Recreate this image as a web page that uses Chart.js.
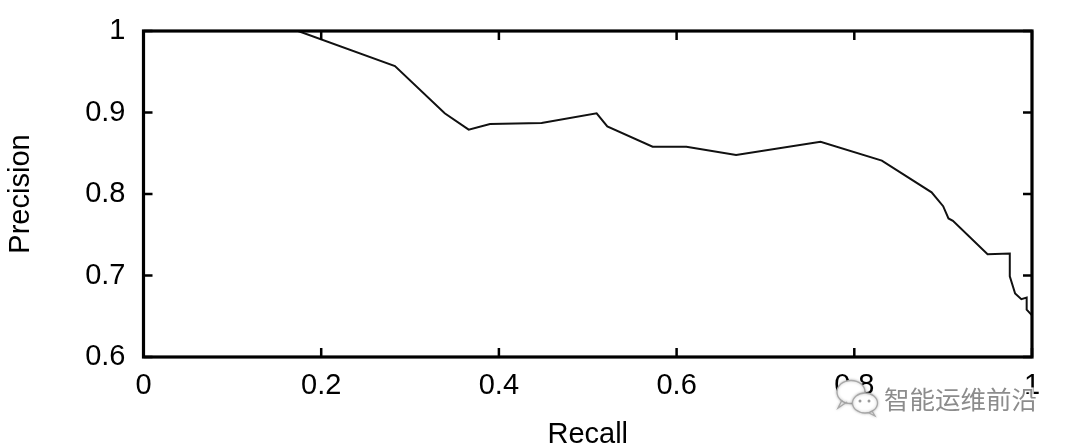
<!DOCTYPE html>
<html>
<head>
<meta charset="utf-8">
<script src="https://cdn.jsdelivr.net/npm/chart.js@4/dist/chart.umd.min.js"></script>
<style>
  html, body { margin: 0; padding: 0; background: #fff; }
  #wrap { width: 1074px; height: 446px; }
</style>
</head>
<body>
<div id="wrap"><canvas id="prChart" width="1074" height="446"></canvas></div>
<script>
// Precision-recall curve values
var recall = [0, 0.174, 0.283, 0.339, 0.366, 0.390, 0.448, 0.510, 0.522, 0.573, 0.611, 0.667, 0.762, 0.831, 0.887, 0.900, 0.906, 0.911, 0.950, 0.975, 0.975, 0.981, 0.988, 0.994, 0.994, 1.0];
var precision = [1, 1, 0.957, 0.899, 0.879, 0.886, 0.887, 0.899, 0.883, 0.858, 0.858, 0.848, 0.864, 0.841, 0.802, 0.785, 0.770, 0.767, 0.726, 0.727, 0.699, 0.678, 0.671, 0.673, 0.658, 0.651];

var xTickLabels = ['0', '0.2', '0.4', '0.6', '0.8', '1'];
var yTickLabels = ['0.6', '0.7', '0.8', '0.9', '1'];
var xTitle = 'Recall';
var yTitle = 'Precision';
var watermark = '智能运维前沿';

var FONT = '"Liberation Sans", Arial, sans-serif';

// gnuplot style frame with inward ticks on all four sides
var framePlugin = {
    id: 'frame',
    afterDatasetsDraw: function (chart) {
        var ctx = chart.ctx;
        var a = chart.chartArea;
        var xs = chart.scales.x;
        var ys = chart.scales.y;
        var len = 9;
        ctx.save();
        ctx.strokeStyle = '#000';
        ctx.lineWidth = 2.5;
        ctx.beginPath();
        xs.ticks.forEach(function (t) {
            var px = xs.getPixelForValue(t.value);
            ctx.moveTo(px, a.bottom); ctx.lineTo(px, a.bottom - len);
            ctx.moveTo(px, a.top); ctx.lineTo(px, a.top + len);
        });
        ys.ticks.forEach(function (t) {
            var py = ys.getPixelForValue(t.value);
            ctx.moveTo(a.left, py); ctx.lineTo(a.left + len, py);
            ctx.moveTo(a.right, py); ctx.lineTo(a.right - len, py);
        });
        ctx.stroke();
        ctx.lineWidth = 3.2;
        ctx.strokeRect(a.left, a.top, a.right - a.left, a.bottom - a.top);
        ctx.restore();
    }
};

// WeChat style watermark in the lower right corner
var watermarkPlugin = {
    id: 'watermark',
    afterDraw: function (chart) {
        var ctx = chart.ctx;
        ctx.save();
        ctx.shadowColor = 'rgba(0,0,0,0.25)';
        ctx.shadowBlur = 3;
        ctx.fillStyle = '#fff';
        ctx.strokeStyle = '#a8a8a8';
        ctx.lineWidth = 1.3;
        // back bubble
        ctx.beginPath();
        ctx.ellipse(851, 392, 14, 11.5, 0, 0, Math.PI * 2);
        ctx.fill();
        ctx.stroke();
        ctx.beginPath();
        ctx.moveTo(842, 400); ctx.lineTo(838, 408); ctx.lineTo(847, 402);
        ctx.stroke();
        // front bubble
        ctx.beginPath();
        ctx.ellipse(865, 403, 12.5, 10, 0, 0, Math.PI * 2);
        ctx.fill();
        ctx.stroke();
        ctx.beginPath();
        ctx.moveTo(872, 411); ctx.lineTo(875, 416); ctx.lineTo(868, 412.5);
        ctx.stroke();
        ctx.shadowBlur = 0;
        ctx.fillStyle = '#9a9a9a';
        ctx.beginPath();
        ctx.arc(860, 401, 1.5, 0, Math.PI * 2);
        ctx.arc(869, 401, 1.5, 0, Math.PI * 2);
        ctx.fill();
        // text with white halo
        ctx.font = '25.5px "Noto Sans CJK SC", sans-serif';
        ctx.textBaseline = 'alphabetic';
        ctx.textAlign = 'left';
        ctx.lineWidth = 3;
        ctx.strokeStyle = 'rgba(255,255,255,0.9)';
        ctx.strokeText(watermark, 884, 409);
        ctx.fillStyle = '#8c8c8c';
        ctx.fillText(watermark, 884, 409);
        ctx.restore();
    }
};

var points = recall.map(function (r, i) { return { x: r, y: precision[i] }; });

new Chart(document.getElementById('prChart').getContext('2d'), {
    type: 'line',
    data: {
        datasets: [{
            data: points,
            borderColor: '#111',
            borderWidth: 2,
            pointRadius: 0,
            tension: 0,
            fill: false
        }]
    },
    options: {
        responsive: false,
        animation: false,
        layout: { padding: { top: 31, right: 42, left: 0, bottom: 0 } },
        plugins: {
            legend: { display: false },
            tooltip: { enabled: false }
        },
        scales: {
            x: {
                type: 'linear',
                min: 0,
                max: 1,
                afterFit: function (s) { s.height = 89; s.paddingLeft = 0; s.paddingRight = 0; },
                grid: { display: false, drawTicks: false },
                border: { display: false },
                ticks: {
                    stepSize: 0.2,
                    padding: 12,
                    color: '#000',
                    font: { family: FONT, size: 29 },
                    maxRotation: 0,
                    callback: function (v, i) { return xTickLabels[i]; }
                },
                title: {
                    display: true,
                    text: xTitle,
                    color: '#000',
                    font: { family: FONT, size: 29, lineHeight: 1 },
                    padding: { top: 0, bottom: -3 }
                }
            },
            y: {
                type: 'linear',
                min: 0.6,
                max: 1,
                afterFit: function (s) { s.width = 143.5; s.paddingTop = 0; s.paddingBottom = 0; },
                grid: { display: false, drawTicks: false },
                border: { display: false },
                ticks: {
                    stepSize: 0.1,
                    padding: 18,
                    color: '#000',
                    font: { family: FONT, size: 29 },
                    callback: function (v, i) { return yTickLabels[i]; }
                },
                title: {
                    display: true,
                    text: yTitle,
                    color: '#000',
                    font: { family: FONT, size: 29, lineHeight: 1 },
                    padding: { top: 6, bottom: 0 }
                }
            }
        }
    },
    plugins: [framePlugin, watermarkPlugin]
});
</script>
</body>
</html>
